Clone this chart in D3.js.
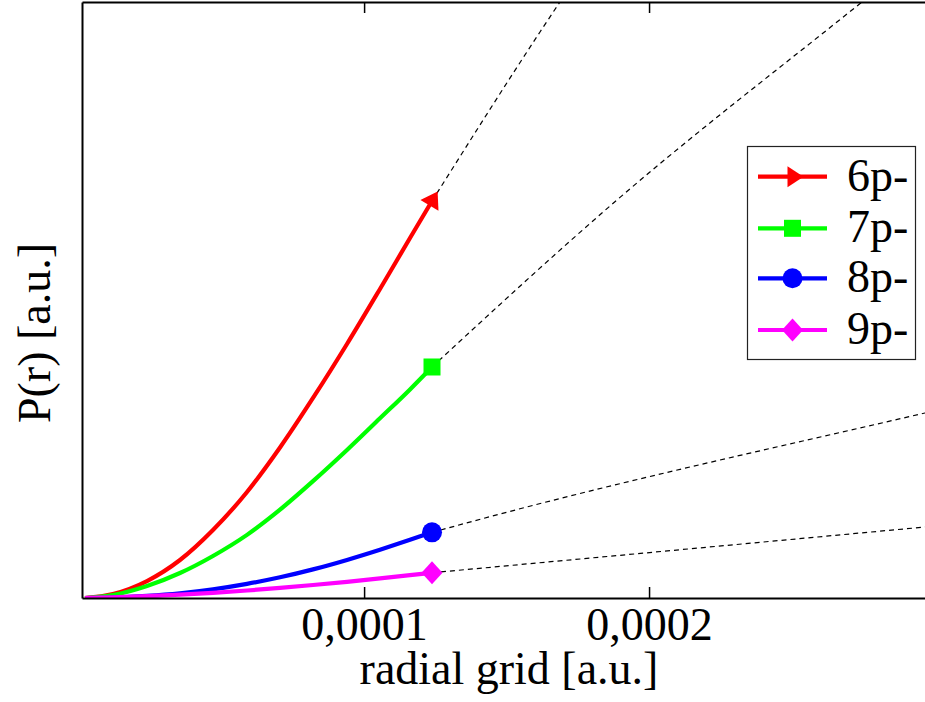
<!DOCTYPE html>
<html>
<head>
<meta charset="utf-8">
<script src="https://cdn.jsdelivr.net/npm/d3@7"></script>
<style>
  html, body { margin: 0; padding: 0; background: #fff; }
  svg { display: block; }
  text { font-family: "Liberation Serif", "Times New Roman", serif; fill: #000; }
</style>
</head>
<body>
<svg id="chart" width="925" height="702"></svg>
<script>
// Radial grid points (a.u.) of the fine grid, shared by all four orbitals
const radialGrid = [2.05e-6, 11.88e-6, 23.81e-6, 35.39e-6, 46.97e-6, 58.91e-6, 70.49e-6, 82.07e-6, 94.00e-6, 105.58e-6, 116.11e-6, 123.83e-6];

// P(r) of each orbital on the fine grid (arbitrary units)
const p6 = [0, 0.0067, 0.0285, 0.0638, 0.1141, 0.1779, 0.2525, 0.3356, 0.4262, 0.5185, 0.6040, 0.6661];
const p7 = [0, 0.0050, 0.0201, 0.0419, 0.0705, 0.1059, 0.1482, 0.1960, 0.2483, 0.3015, 0.3500, 0.3876];
const p8 = [0, 0.0007, 0.0035, 0.0079, 0.0146, 0.0237, 0.0347, 0.0480, 0.0639, 0.0810, 0.0976, 0.1102];
const p9 = [0, 0.0013, 0.0030, 0.0055, 0.0087, 0.0126, 0.0169, 0.0218, 0.0272, 0.0329, 0.0383, 0.0424];

// Continuation on the coarse grid beyond the last fine point (dashed)
const coarseR6 = [123.83e-6, 161.73e-6, 175.77e-6];
const coarseP6 = [0.6661, 0.9497, 1.0503];
const coarseR7 = [123.83e-6, 188.75e-6, 274.73e-6, 300e-6];
const coarseP7 = [0.3876, 0.6678, 1.0, 1.097];
const coarseR8 = [123.83e-6, 147.69e-6, 296.84e-6, 300e-6];
const coarseP8 = [0.1102, 0.1409, 0.3104, 0.3139];
const coarseR9 = [123.83e-6, 300e-6];
const coarseP9 = [0.0424, 0.1205];

const seriesNames = ["6p-", "7p-", "8p-", "9p-"];
const seriesColors = ["#ff0000", "#00ff00", "#0000ff", "#ff00ff"];
const seriesMarkers = ["arrow", "square", "circle", "diamond"];
const xTicks = [1e-4, 2e-4];

const svg = d3.select("#chart");
const plotLeft = 82, plotRight = 934, plotTop = 2, plotBottom = 598;
const serif = '"Liberation Serif", "Times New Roman", serif';

const x = d3.scaleLinear().domain([1e-6, 3e-4]).range([plotLeft, plotRight]);
const y = d3.scaleLinear().domain([0, 1]).range([plotBottom, plotTop]);

svg.append("defs").append("clipPath").attr("id", "plotClip")
  .append("rect").attr("x", plotLeft).attr("y", plotTop)
  .attr("width", plotRight - plotLeft).attr("height", plotBottom - plotTop);

const fineP = [p6, p7, p8, p9];
const coarse = [[coarseR6, coarseP6], [coarseR7, coarseP7], [coarseR8, coarseP8], [coarseR9, coarseP9]];

const plot = svg.append("g").attr("clip-path", "url(#plotClip)");

const smooth = d3.line().x(d => x(d[0])).y(d => y(d[1])).curve(d3.curveMonotoneX);

// dashed continuations
coarse.forEach(([rs, ps]) => {
  plot.append("path")
    .attr("d", smooth(rs.map((r, i) => [r, ps[i]])))
    .attr("fill", "none").attr("stroke", "#000").attr("stroke-width", 1.2)
    .attr("stroke-dasharray", "5,4");
});

// marker shapes
function drawMarker(g, kind, color, cx, cy, angle) {
  if (kind === "arrow") {
    g.append("path").attr("d", "M11,0 L-5,-10.5 L-5,10.5 Z")
      .attr("transform", `translate(${cx},${cy}) rotate(${angle})`).attr("fill", color);
  } else if (kind === "square") {
    g.append("rect").attr("x", cx - 8.5).attr("y", cy - 8.5).attr("width", 17).attr("height", 17).attr("fill", color);
  } else if (kind === "circle") {
    g.append("circle").attr("cx", cx).attr("cy", cy).attr("r", 10).attr("fill", color);
  } else {
    g.append("path").attr("d", `M${cx},${cy - 11.5} L${cx + 10.5},${cy} L${cx},${cy + 11.5} L${cx - 10.5},${cy} Z`).attr("fill", color);
  }
}

// fine-grid curves, then their end markers
fineP.forEach((ps, k) => {
  const pts = radialGrid.map((r, i) => [r, ps[i]]);
  plot.append("path").attr("d", smooth(pts))
    .attr("fill", "none").attr("stroke", seriesColors[k]).attr("stroke-width", 4.2)
    .attr("stroke-linejoin", "round");
});
fineP.forEach((ps, k) => {
  const n = radialGrid.length;
  const x1 = x(radialGrid[n - 2]), y1 = y(ps[n - 2]);
  const x2 = x(radialGrid[n - 1]), y2 = y(ps[n - 1]);
  const ang = Math.atan2(y2 - y1, x2 - x1) * 180 / Math.PI;
  drawMarker(svg, seriesMarkers[k], seriesColors[k], x2, y2, ang);
});

// axes: box with inward ticks, no y tick marks
const fmt = d => d3.format(".4f")(d).replace(".", ",");
const xAxis = svg.append("g").attr("transform", `translate(0,${plotBottom})`)
  .call(d3.axisBottom(x).tickValues(xTicks).tickSizeInner(-11).tickSizeOuter(0).tickFormat(fmt));
xAxis.select(".domain").attr("stroke-width", 2);
xAxis.selectAll(".tick line").attr("stroke-width", 1.5);
xAxis.selectAll(".tick text").attr("y", 42).attr("dy", 0)
  .attr("font-family", serif).style("font-family", serif).style("font-size", "46px");

const xAxisTop = svg.append("g").attr("transform", `translate(0,${plotTop})`)
  .call(d3.axisTop(x).tickValues(xTicks).tickSizeInner(-11).tickSizeOuter(0).tickFormat(""));
xAxisTop.select(".domain").attr("stroke-width", 2);
xAxisTop.selectAll(".tick line").attr("stroke-width", 1.5);

const yAxis = svg.append("g").attr("transform", `translate(${plotLeft},0)`)
  .call(d3.axisLeft(y).tickValues([]).tickSizeOuter(0));
yAxis.select(".domain").attr("stroke-width", 2);

// axis titles
svg.append("text").attr("x", 509).attr("y", 684).attr("text-anchor", "middle")
  .attr("font-family", serif).style("font-size", "46px").text("radial grid [a.u.]");
svg.append("text").attr("transform", "translate(50,333) rotate(-90)").attr("text-anchor", "middle")
  .attr("font-family", serif).style("font-size", "46px").text("P(r) [a.u.]");

// legend
const legend = svg.append("g");
legend.append("rect").attr("x", 747.5).attr("y", 146.5).attr("width", 168).attr("height", 213)
  .attr("fill", "#fff").attr("stroke", "#222").attr("stroke-width", 1.2);
const rowY = [176.7, 228.3, 278.3, 330];
seriesNames.forEach((name, k) => {
  const cy = rowY[k];
  legend.append("line").attr("x1", 758).attr("x2", 827).attr("y1", cy).attr("y2", cy)
    .attr("stroke", seriesColors[k]).attr("stroke-width", 4.2);
  drawMarker(legend, seriesMarkers[k], seriesColors[k], 792.5, cy, 0);
  legend.append("text").attr("x", 847).attr("y", cy + 14)
    .attr("font-family", serif).style("font-size", "46px").text(name);
});
</script>
</body>
</html>
